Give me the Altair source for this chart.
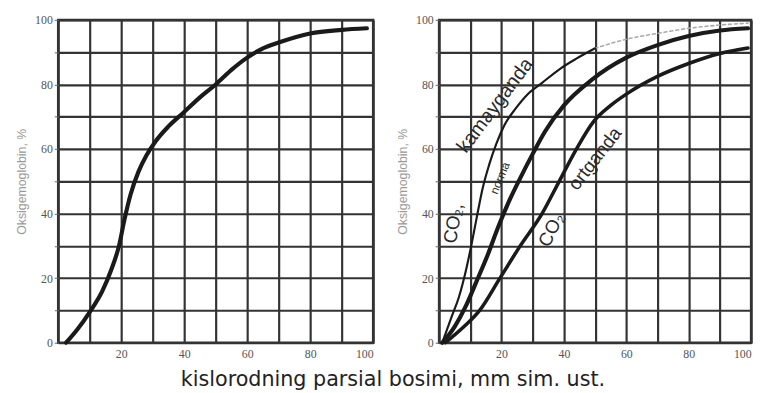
import altair as alt
import pandas as pd

# ---- data ----
# left panel: single oxyhaemoglobin dissociation curve
left_x = [2.5, 6, 10, 14, 17, 19.3, 21, 23, 25.5, 28, 31, 35, 40, 45, 50, 55, 60, 65, 70, 80, 90, 98]
left_y = [0, 4, 9.5, 16, 23, 30, 38, 46, 53, 58, 62.5, 67, 71.5, 76, 80, 84.5, 88.3, 91.2, 93, 95.8, 96.9, 97.4]

# right panel: three curves
kam_x = [1, 4, 6.3, 8.5, 10.5, 12.3, 14, 16, 18.3, 21, 24.5, 28.4, 33, 39, 44, 50]
kam_y = [0, 8, 14, 22, 31, 40, 48, 55, 61.5, 67.5, 72.5, 77, 80.5, 85, 88, 91.2]
kam_dot_x = [50, 60, 70, 80, 90, 99]
kam_dot_y = [91.2, 94, 95.8, 97.4, 98.4, 99]

norma_x = [1, 5, 8.4, 12, 15.5, 19, 22.5, 26, 30, 34, 40, 49, 60, 70, 80, 90, 99]
norma_y = [0, 5, 11, 19, 27, 36, 44, 51, 58.5, 65.5, 73.5, 81.5, 88.3, 92.2, 95, 96.7, 97.4]

ort_x = [2, 8, 13, 19.5, 26, 33, 38.5, 44, 49.5, 55, 60, 70, 80, 90, 99]
ort_y = [0, 5, 10, 20, 30, 40, 50, 60, 68.5, 73.5, 77, 82.5, 86.5, 89.6, 91.3]

ticks10 = list(range(0, 101, 10))

# labels on the right panel: text, x, y, angle, size
lab_text = ["CO\u2082,", "kamayganda", "norma", "CO\u2082", "ortganda"]
lab_x = [4.6, 18, 19.5, 36, 50]
lab_y = [37, 73.5, 51, 35, 57]
lab_angle = [280, 307, 292, 297, 308]
lab_size = [19, 20, 12, 19, 19]

GRID = "#333333"
LABEL_FONT = "Liberation Serif"

def xenc():
    return alt.X(
        "x:Q",
        scale=alt.Scale(domain=[0, 100], nice=False, zero=False),
        axis=alt.Axis(
            values=ticks10,
            labelExpr="datum.value % 20 == 0 && datum.value > 0 ? datum.label : ''",
            title=None, grid=True, gridColor=GRID, gridWidth=2.2, gridOpacity=1,
            ticks=False, domain=False, labelPadding=6,
            labelFont=LABEL_FONT, labelFontSize=12, labelColor="#555",
        ),
    )

def yenc():
    return alt.Y(
        "y:Q",
        scale=alt.Scale(domain=[0, 100], nice=False, zero=False),
        axis=alt.Axis(
            values=ticks10,
            labelExpr="datum.value % 20 == 0 ? datum.label : ''",
            title="Oksigemoglobin, %", titleFont="Liberation Sans", titleFontSize=12.5,
            titleFontWeight="normal", titleColor="#999", titlePadding=6,
            grid=True, gridColor=GRID, gridWidth=2.2, gridOpacity=1,
            ticks=True, tickSize=4, tickColor="#666", domain=False, labelPadding=2,
            labelFont=LABEL_FONT, labelFontSize=12, labelColor="#555",
        ),
    )

def line(xs, ys, width, color="#1a1a1a", dash=None):
    df = pd.DataFrame({"x": xs, "y": ys})
    kw = dict(strokeWidth=width, color=color, interpolate="monotone", strokeCap="round")
    if dash is not None:
        kw["strokeDash"] = dash
    return alt.Chart(df).mark_line(**kw).encode(x=xenc(), y=yenc())

left = line(left_x, left_y, 4.2).properties(width=320, height=328)

labels_df = pd.DataFrame({"t": lab_text, "x": lab_x, "y": lab_y})
label_layers = []
for i in range(len(lab_text)):
    label_layers.append(
        alt.Chart(labels_df.iloc[[i]]).mark_text(
            angle=lab_angle[i], fontSize=lab_size[i], font="Liberation Sans",
            color="#2a2a2a", align="center", baseline="middle",
        ).encode(x=xenc(), y=yenc(), text="t:N")
    )

right = alt.layer(
    line(kam_dot_x, kam_dot_y, 1.6, color="#aaaaaa", dash=[3, 3]),
    line(kam_x, kam_y, 2.2),
    line(norma_x, norma_y, 4.2),
    line(ort_x, ort_y, 3.6),
    *label_layers,
).properties(width=317, height=328)

chart = alt.hconcat(left, right, spacing=18).properties(
    title=alt.TitleParams(
        "kislorodning parsial bosimi, mm sim. ust.", orient="bottom", anchor="middle",
        font="DejaVu Sans", fontSize=21, fontWeight="normal", color="#222", offset=9, dx=7,
    ),
    padding={"left": 6, "top": 1, "right": 0, "bottom": 0},
    background="white",
).configure_view(stroke=GRID, strokeWidth=2.5)

chart.save("out.html", embed_options={"renderer": "svg", "actions": False})
